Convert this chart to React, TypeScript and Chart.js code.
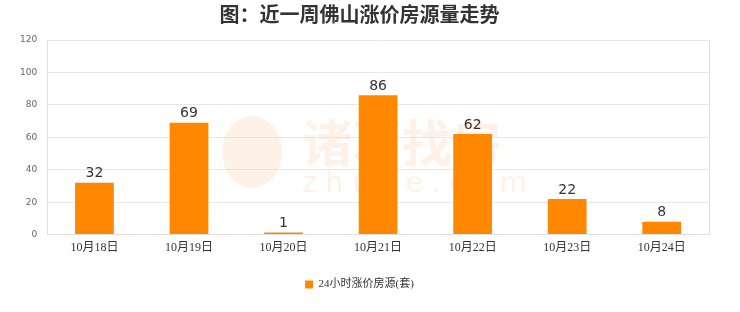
import React, { useEffect, useRef } from "react";
import { Chart, registerables } from "chart.js";
Chart.register(...registerables);

const categories = ["10月18日", "10月19日", "10月20日", "10月21日", "10月22日", "10月23日", "10月24日"];
const values = [32, 69, 1, 86, 62, 22, 8];
const seriesName = "24小时涨价房源(套)";
const titleText = "图：近一周佛山涨价房源量走势";
const yTicks = [0, 20, 40, 60, 80, 100, 120];

const extras = {
  id: "extras",
  beforeDatasetsDraw(chart: any) {
    const { ctx, chartArea } = chart;
    ctx.save();
    // watermark
    ctx.fillStyle = "rgba(245,190,150,0.22)";
    ctx.font = "bold 50px 'Noto Sans CJK SC'";
    ctx.textAlign = "left";
    ctx.textBaseline = "middle";
    ctx.fillText("诸葛找房", 302, 143);
    ctx.font = "28px 'DejaVu Sans'";
    ctx.fillText("z h u g e . c o m", 302, 185);
    ctx.beginPath();
    ctx.ellipse(252, 152, 30, 36, 0, 0, Math.PI * 2);
    ctx.fill();
    ctx.restore();
    // right border
    ctx.save();
    ctx.strokeStyle = "#e0e0e0";
    ctx.lineWidth = 1;
    ctx.beginPath();
    ctx.moveTo(Math.round(chartArea.right) + 0.5, chartArea.top);
    ctx.lineTo(Math.round(chartArea.right) + 0.5, chartArea.bottom);
    ctx.stroke();
    ctx.restore();
  },
  afterDatasetsDraw(chart: any) {
    const { ctx } = chart;
    const meta = chart.getDatasetMeta(0);
    ctx.save();
    ctx.fillStyle = "#333";
    ctx.font = "14px 'DejaVu Sans'";
    ctx.textAlign = "center";
    ctx.textBaseline = "bottom";
    meta.data.forEach((bar: any, i: number) => {
      ctx.fillText(String(values[i]), bar.x, bar.y - 2);
    });
    ctx.restore();
  },
};

export default function App() {
  const ref = useRef<HTMLCanvasElement>(null);
  useEffect(() => {
    document.body.style.margin = "0";
    const chart = new Chart(ref.current!, {
      type: "bar",
      data: {
        labels: categories,
        datasets: [
          {
            label: seriesName,
            data: values,
            backgroundColor: "#ff8800",
            borderWidth: 0,
            barPercentage: 0.82,
            categoryPercentage: 0.5,
            minBarLength: 2,
          },
        ],
      },
      options: {
        animation: false,
        responsive: false,
        layout: { padding: { left: 10, right: 31, top: 0, bottom: 12 } },
        plugins: {
          title: {
            display: true,
            text: titleText,
            color: "#333",
            font: { family: "'Noto Sans CJK SC'", size: 20, weight: "bold" },
            padding: { top: 2, bottom: 14 },
          },
          legend: {
            position: "bottom",
            labels: {
              boxWidth: 8,
              boxHeight: 8,
              color: "#333",
              padding: 10,
              font: { family: "'Liberation Serif', 'Noto Sans CJK SC'", size: 11 },
            },
          },
          tooltip: { enabled: false },
        },
        scales: {
          x: {
            grid: { display: false, drawTicks: false },
            border: { color: "#e0e0e0" },
            afterFit: (axis: any) => {
              axis.height += 8;
            },
            ticks: {
              color: "#333",
              padding: 6,
              font: { family: "'Liberation Serif', 'Noto Sans CJK SC'", size: 12 },
            },
          },
          y: {
            min: 0,
            max: 120,
            afterBuildTicks: (axis: any) => {
              axis.ticks = yTicks.map((v) => ({ value: v }));
            },
            grid: { color: "#e8e8e8", drawTicks: false },
            border: { color: "#e0e0e0" },
            ticks: {
              color: "#666",
              padding: 10,
              font: { family: "'DejaVu Sans'", size: 9 },
            },
          },
        },
      },
      plugins: [extras],
    });
    return () => chart.destroy();
  }, []);
  return (
    <div style={{ width: 740, height: 312 }}>
      <canvas ref={ref} width={740} height={312} style={{ display: "block", background: "#fff" }} />
    </div>
  );
}
